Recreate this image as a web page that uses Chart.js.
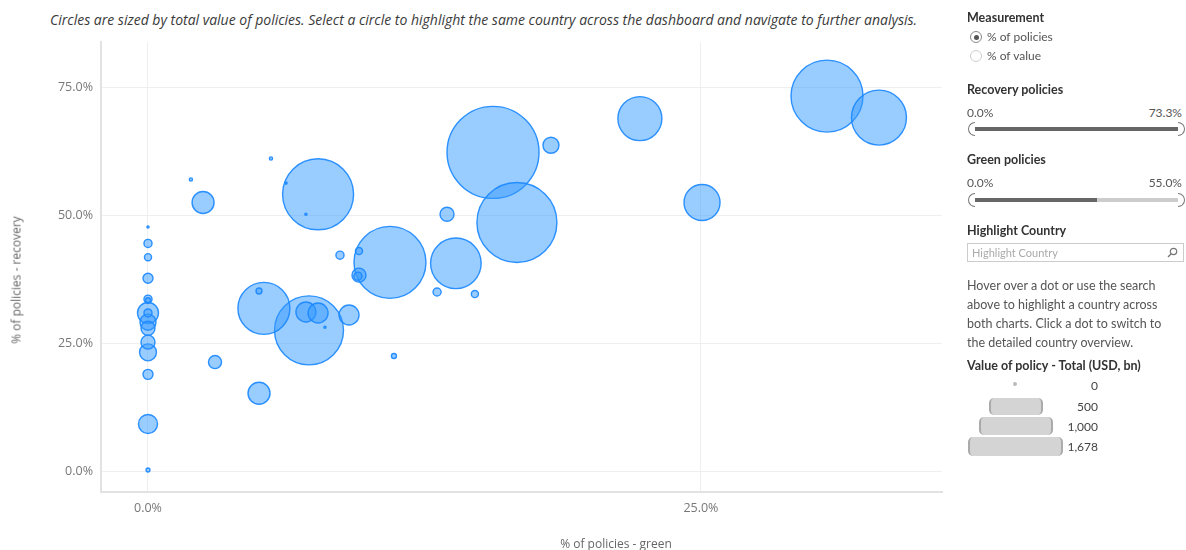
<!DOCTYPE html>
<html>
<head>
<meta charset="utf-8">
<script src="https://cdn.jsdelivr.net/npm/chart.js@4.4.1/dist/chart.umd.min.js"></script>
<style>
  html, body { margin:0; padding:0; background:#fff; }
  body { width:1186px; height:550px; position:relative; overflow:hidden; font-family: Lato, "Open Sans", sans-serif; color:#333; }
  #caption { position:absolute; left:50px; top:10px; font-family:"Open Sans", sans-serif; font-size:14px; font-style:italic; color:#3a3a3a; white-space:nowrap; }
  #chartWrap { position:absolute; left:0; top:-5px; width:990px; height:555px; }
  #ytitle { position:absolute; left:16px; top:280px; transform:translate(-50%,-50%) rotate(-90deg); font-family:"Open Sans", sans-serif; font-size:12px; color:#666; white-space:nowrap; }
  #xtitle { position:absolute; left:616px; top:535px; transform:translateX(-50%); font-family:"Open Sans", sans-serif; font-size:12px; color:#666; white-space:nowrap; }
  .p { position:absolute; white-space:nowrap; }
  .h { font-size:12.5px; font-weight:700; color:#333; }
  .t { font-size:12px; color:#555; }
  .radio { position:absolute; width:10px; height:10px; border-radius:50%; border:1px solid #888; background:#fff; }
  .radio.on::after { content:""; position:absolute; left:2.5px; top:2.5px; width:5px; height:5px; border-radius:50%; background:#555; }
  .radio.off { border-color:#ccc; }
  .bar { position:absolute; height:4px; }
  .hl { position:absolute; width:6px; height:12px; border:1.5px solid #777; border-right:none; border-radius:7px 0 0 7px; background:#fff; }
  .hr { position:absolute; width:6px; height:12px; border:1.5px solid #777; border-left:none; border-radius:0 7px 7px 0; background:#fff; }
  #search { position:absolute; left:967px; top:243px; width:217px; height:19px; border:1px solid #ccc; box-sizing:border-box; }
  #search span { position:absolute; left:4px; top:2px; font-size:11px; color:#aaa; }
  .lg { position:absolute; background:#d4d4d4; border-left:2px solid #aaa; border-right:2px solid #aaa; border-radius:5px; box-sizing:border-box; }
  .lv { position:absolute; right:88px; font-size:12px; color:#444; text-align:right; }
</style>
</head>
<body>
<div id="caption">Circles are sized by total value of policies. Select a circle to highlight the same country across the dashboard and navigate to further analysis.</div>
<div id="chartWrap"><canvas id="c" width="990" height="555"></canvas></div>
<div id="ytitle">% of policies - recovery</div>
<div id="xtitle">% of policies - green</div>

<!-- right panel -->
<div class="p h" style="left:967px; top:10px;">Measurement</div>
<div class="radio on" style="left:970px; top:31px;"></div>
<div class="p t" style="left:987px; top:29px;">% of policies</div>
<div class="radio off" style="left:970px; top:50px;"></div>
<div class="p t" style="left:987px; top:48px;">% of value</div>

<div class="p h" style="left:967px; top:82px;">Recovery policies</div>
<div class="p t" style="left:967px; top:105px;">0.0%</div>
<div class="p t" style="right:4px; top:105px;">73.3%</div>
<div class="bar" style="left:974px; width:206px; top:127px; background:#666;"></div>
<div class="hl" style="left:968px; top:122px;"></div>
<div class="hr" style="left:1178px; top:122px;"></div>

<div class="p h" style="left:967px; top:152px;">Green policies</div>
<div class="p t" style="left:967px; top:175px;">0.0%</div>
<div class="p t" style="right:4px; top:175px;">55.0%</div>
<div class="bar" style="left:974px; width:123px; top:198px; background:#666;"></div>
<div class="bar" style="left:1097px; width:83px; top:198px; background:#ccc;"></div>
<div class="hl" style="left:968px; top:193px;"></div>
<div class="hr" style="left:1178px; top:193px;"></div>

<div class="p h" style="left:967px; top:223px;">Highlight Country</div>
<div id="search"><span>Highlight Country</span>
  <svg style="position:absolute; right:5px; top:3px;" width="11" height="11" viewBox="0 0 11 11"><circle cx="6.5" cy="4.5" r="3.2" fill="none" stroke="#777" stroke-width="1.2"/><line x1="4.2" y1="6.8" x2="1" y2="10" stroke="#777" stroke-width="1.3"/></svg>
</div>

<div class="p t" style="left:967px; top:276px; line-height:19px; font-size:12.5px;">Hover over a dot or use the search<br>above to highlight a country across<br>both charts. Click a dot to switch to<br>the detailed country overview.</div>

<div class="p h" style="left:967px; top:358px;">Value of policy - Total (USD, bn)</div>
<div style="position:absolute; left:1013px; top:382px; width:4px; height:4px; border-radius:50%; background:#bbb;"></div>
<div class="lg" style="left:989px; top:398px; width:54px; height:17px;"></div>
<div class="lg" style="left:979px; top:417px; width:74px; height:18px;"></div>
<div class="lg" style="left:968px; top:437px; width:95px; height:19px;"></div>
<div class="lv" style="top:378px;">0</div>
<div class="lv" style="top:399px;">500</div>
<div class="lv" style="top:419px;">1,000</div>
<div class="lv" style="top:439px;">1,678</div>

<script>
// ---- data ----
const greenPct = [5.56, 1.94, 2.49, 7.69, 6.24, 7.14, 0, 0, 0, 0, 0, 0, 0, 0, 0, 0, 0, 0, 0, 0, 0,
  3.03, 5.02, 5.24, 5.02, 7.28, 7.14, 7.69, 8.00, 8.68, 9.09, 15.60, 18.22, 16.68, 13.52, 10.94, 13.92,
  9.54, 9.54, 9.49, 13.07, 14.78, 11.12, 22.24, 25.05, 30.70, 33.05];
const recoveryPct = [61.1, 57.0, 52.5, 54.1, 56.3, 50.2, 47.7, 44.5, 41.8, 37.7, 33.6, 33.4, 30.9, 30.9, 29.1, 27.9, 25.2, 23.2, 18.9, 9.2, 0.2,
  21.3, 15.2, 31.8, 35.2, 27.5, 31.1, 30.9, 28.1, 42.2, 30.5, 62.3, 63.7, 48.6, 50.2, 40.8, 40.6,
  43.0, 38.3, 38.1, 35.0, 34.6, 22.5, 68.9, 52.5, 73.3, 69.1];
const valueUsdBn = [2, 2, 96, 1000, 1, 1, 1, 13, 10, 20, 13, 5, 87, 13, 51, 39, 39, 57, 20, 72, 3,
  34, 96, 536, 7, 944, 79, 79, 1, 13, 79, 1678, 51, 1269, 39, 1028, 508,
  10, 39, 13, 13, 10, 5, 384, 257, 1028, 600];
const xTickValues = [0, 25];
const yTickValues = [0, 25, 50, 75];
const legendValues = [0, 500, 1000, 1678];

const MAX_VALUE = 1678;
const MAX_RADIUS = 46;

const points = greenPct.map((x, i) => ({
  x: x, y: recoveryPct[i], v: valueUsdBn[i],
  r: Math.sqrt(valueUsdBn[i] / MAX_VALUE) * MAX_RADIUS
})).sort((a, b) => b.v - a.v);

const fmt = v => v.toFixed(1) + '%';
const tickFont = { family: '"Open Sans", sans-serif', size: 12.5 };

new Chart(document.getElementById('c'), {
  type: 'bubble',
  data: {
    datasets: [{
      data: points,
      backgroundColor: 'rgba(51,153,255,0.5)',
      borderColor: 'rgba(25,135,255,0.9)',
      borderWidth: 1.4,
      hoverBorderWidth: 1.4
    }]
  },
  options: {
    responsive: false,
    animation: false,
    events: [],
    layout: { padding: { left: 0, right: 48, top: 47, bottom: 0 } },
    plugins: { legend: { display: false }, tooltip: { enabled: false } },
    scales: {
      x: {
        type: 'linear', min: -2.125, max: 35.9,
        afterBuildTicks: s => { s.ticks = xTickValues.map(v => ({ value: v })); },
        afterFit: s => { s.height = 58; },
        grid: { color: '#efefef', lineWidth: 1, drawTicks: false },
        border: { color: '#e2e2e2', width: 2 },
        ticks: { color: '#777', font: tickFont, padding: 9, callback: v => fmt(v), maxRotation: 0 }
      },
      y: {
        type: 'linear', min: -4.1, max: 83.8,
        afterBuildTicks: s => { s.ticks = yTickValues.map(v => ({ value: v })); },
        afterFit: s => { s.width = 101; },
        grid: { color: '#efefef', lineWidth: 1, drawTicks: false },
        border: { color: '#e2e2e2', width: 2 },
        ticks: { color: '#777', font: tickFont, padding: 8, callback: v => fmt(v) }
      }
    }
  }
});
</script>
</body>
</html>
